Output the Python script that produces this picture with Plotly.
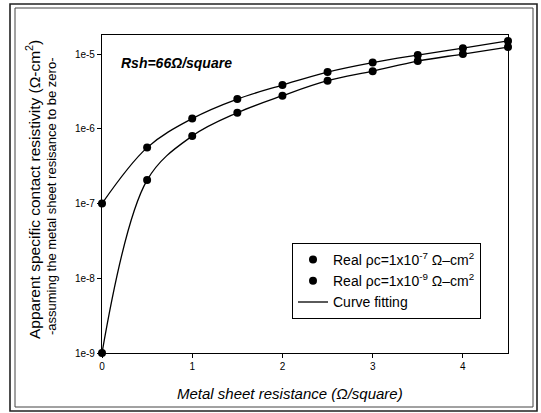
import plotly.graph_objects as go

# Data
sheet_res = [0, 0.5, 1, 1.5, 2, 2.5, 3, 3.5, 4, 4.5]
rho_real_1e7 = [1e-7, 5.6e-7, 1.37e-6, 2.5e-6, 3.85e-6, 5.75e-6, 7.7e-6, 9.7e-6, 1.2e-5, 1.5e-5]
rho_real_1e9 = [1e-9, 2.06e-7, 8.0e-7, 1.64e-6, 2.77e-6, 4.4e-6, 5.9e-6, 8.05e-6, 1.0e-5, 1.24e-5]
y_tick_vals = [1e-9, 1e-8, 1e-7, 1e-6, 1e-5]
y_tick_text = ["1e-9", "1e-8", "1e-7", "1e-6", "1e-5"]
x_tick_vals = [0, 1, 2, 3, 4]

FONT = "Liberation Sans, Arial, sans-serif"

fig = go.Figure()

# fitted curves (smooth lines through the points)
fig.add_trace(go.Scatter(x=sheet_res, y=rho_real_1e7, mode="lines",
                         line=dict(color="black", width=1.3, shape="spline"),
                         showlegend=False, cliponaxis=False, hoverinfo="skip"))
fig.add_trace(go.Scatter(x=sheet_res, y=rho_real_1e9, mode="lines",
                         line=dict(color="black", width=1.3, shape="spline"),
                         name="Curve fitting", showlegend=True, legendrank=3,
                         cliponaxis=False, hoverinfo="skip"))
# data points
fig.add_trace(go.Scatter(x=sheet_res, y=rho_real_1e7, mode="markers",
                         marker=dict(color="black", size=8, symbol="circle"),
                         name="Real \u03c1c=1x10<sup>-7</sup> \u03a9\u2013cm<sup>2</sup>",
                         legendrank=1, cliponaxis=False))
fig.add_trace(go.Scatter(x=sheet_res, y=rho_real_1e9, mode="markers",
                         marker=dict(color="black", size=8, symbol="circle"),
                         name="Real \u03c1c=1x10<sup>-9</sup> \u03a9\u2013cm<sup>2</sup>",
                         legendrank=2, cliponaxis=False))

L, R, T, B = 102, 33, 35, 60
W, H = 541, 413
pw, ph = W - L - R, H - T - B

def px(xp):
    return (xp - L) / pw

def py(yp):
    return (H - B - yp) / ph

shapes = [
    dict(type="rect", xref="paper", yref="paper",
         x0=px(10), x1=px(537), y0=py(411), y1=py(4),
         line=dict(color="#222", width=1.6)),
    dict(type="rect", xref="paper", yref="paper",
         x0=px(15), x1=px(533), y0=py(407), y1=py(8),
         line=dict(color="#444", width=1)),
]

annotations = [
    dict(xref="paper", yref="paper", x=px(119), y=py(63), xanchor="left", yanchor="middle",
         text="<b><i>Rsh=66\u03a9/square</i></b>", showarrow=False,
         font=dict(family=FONT, size=14, color="black")),
    dict(xref="paper", yref="paper", x=px(290), y=py(393), xanchor="center", yanchor="middle",
         text="<i>Metal sheet resistance (\u03a9/square)</i>", showarrow=False,
         font=dict(family=FONT, size=15, color="black")),
    dict(xref="paper", yref="paper", x=px(33), y=py(190), xanchor="center", yanchor="middle",
         text="Apparent specific contact resistivity (\u03a9-cm<sup>2</sup>)", textangle=-90,
         showarrow=False, font=dict(family=FONT, size=15.5, color="black")),
    dict(xref="paper", yref="paper", x=px(51), y=py(197), xanchor="center", yanchor="middle",
         text="-assuming the metal sheet resisance to be zero-", textangle=-90,
         showarrow=False, font=dict(family=FONT, size=13, color="black")),
]

fig.update_layout(
    width=W, height=H,
    margin=dict(l=L, r=R, t=T, b=B),
    paper_bgcolor="white", plot_bgcolor="white",
    font=dict(family=FONT, size=10, color="black"),
    shapes=shapes, annotations=annotations,
    legend=dict(x=px(292), y=py(243), xanchor="left", yanchor="top",
                bordercolor="black", borderwidth=1, bgcolor="white",
                font=dict(family=FONT, size=14, color="black"),
                traceorder="normal", tracegroupgap=0),
    xaxis=dict(range=[0, 4.5], tickvals=x_tick_vals, showgrid=False, zeroline=False,
               showline=True, linecolor="black", linewidth=1.2, mirror=True,
               ticks="outside", ticklen=4, tickcolor="black",
               tickfont=dict(family=FONT, size=10, color="black")),
    yaxis=dict(type="log", range=[-9, -4.745], tickvals=y_tick_vals, ticktext=y_tick_text,
               showgrid=False, zeroline=False, showline=True, linecolor="black",
               linewidth=1.2, mirror=True, ticks="outside", ticklen=4, tickcolor="black",
               tickfont=dict(family=FONT, size=10, color="black")),
)

fig.write_html("out.html")
